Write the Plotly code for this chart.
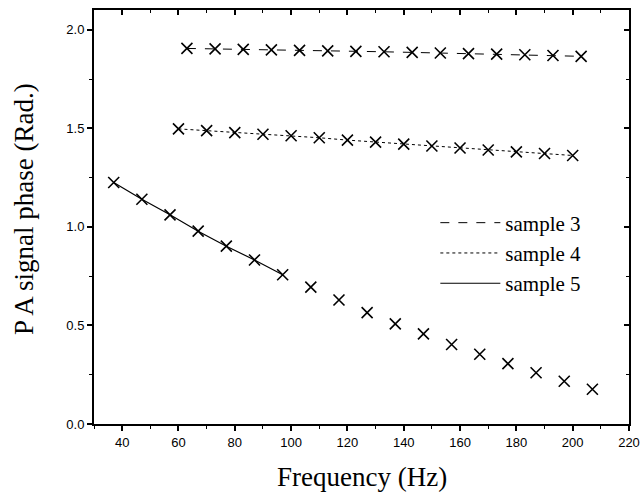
import plotly.graph_objects as go

# ---- data ----
freq3 = [63, 73, 83, 93, 103, 113, 123, 133, 143, 153, 163, 173, 183, 193, 203]
phase3 = [1.905, 1.903, 1.900, 1.898, 1.895, 1.893, 1.890, 1.888, 1.885, 1.882, 1.879, 1.876, 1.873, 1.869, 1.865]

freq4 = [60, 70, 80, 90, 100, 110, 120, 130, 140, 150, 160, 170, 180, 190, 200]
phase4 = [1.497, 1.488, 1.478, 1.470, 1.462, 1.452, 1.440, 1.430, 1.420, 1.410, 1.400, 1.390, 1.380, 1.372, 1.362]

freq5 = [37, 47, 57, 67, 77, 87, 97, 107, 117, 127, 137, 147, 157, 167, 177, 187, 197, 207]
phase5 = [1.225, 1.140, 1.061, 0.978, 0.902, 0.832, 0.757, 0.694, 0.629, 0.565, 0.508, 0.457,
          0.403, 0.354, 0.306, 0.260, 0.217, 0.176]
n_fit5 = 7  # sample 5 line drawn through the first points only

x_ticks = [40, 60, 80, 100, 120, 140, 160, 180, 200, 220]
x_minor = [30, 50, 70, 90, 110, 130, 150, 170, 190, 210]
y_ticks = [0.0, 0.5, 1.0, 1.5, 2.0]
y_minor = [0.25, 0.75, 1.25, 1.75]

x_title = "Frequency (Hz)"
y_title = "P A signal phase (Rad.)"

serif = "Liberation Serif, Times New Roman, serif"
sans = "Liberation Sans, Arial, sans-serif"

marker = dict(symbol="x-thin", size=11, color="black", line=dict(width=1.6, color="black"))

fig = go.Figure()
# legend line traces
fig.add_trace(go.Scatter(x=freq3, y=phase3, mode="lines", name="sample 3",
                         line=dict(color="black", width=1, dash="dash")))
fig.add_trace(go.Scatter(x=freq4, y=phase4, mode="lines", name="sample 4",
                         line=dict(color="black", width=1, dash="dot")))
fig.add_trace(go.Scatter(x=freq5[:n_fit5], y=phase5[:n_fit5], mode="lines", name="sample 5",
                         line=dict(color="black", width=1.2)))
# markers
for fx, fy in [(freq3, phase3), (freq4, phase4), (freq5, phase5)]:
    fig.add_trace(go.Scatter(x=fx, y=fy, mode="markers", marker=marker, showlegend=False))

# invisible trace for inside ticks on top/right
fig.add_trace(go.Scatter(x=[None], y=[None], xaxis="x2", yaxis="y2", showlegend=False,
                         hoverinfo="skip"))

tick_common = dict(showgrid=False, zeroline=False, ticklen=5, tickwidth=1.5, tickcolor="black",
                   automargin=False)

fig.update_layout(
    width=640, height=495,
    margin=dict(l=94, r=11, t=10, b=71),
    paper_bgcolor="white", plot_bgcolor="white",
    showlegend=True,
    legend=dict(x=0.638, y=0.535, xanchor="left", yanchor="top",
                font=dict(family=serif, size=21, color="black"),
                bgcolor="rgba(0,0,0,0)", tracegroupgap=0, itemwidth=60),
    xaxis=dict(range=[30, 220], tickvals=x_ticks, ticks="outside",
               showline=True, mirror=True, linecolor="black", linewidth=2,
               tickfont=dict(family=sans, size=13, color="black"),
               minor=dict(tickvals=x_minor, ticks="outside", ticklen=3,
                          tickwidth=1.2, tickcolor="black"),
               **tick_common),
    yaxis=dict(range=[0, 2.1], tickvals=y_ticks, tickformat=".1f", ticks="outside",
               showline=True, mirror=True, linecolor="black", linewidth=2,
               tickfont=dict(family=sans, size=13, color="black"),
               minor=dict(tickvals=y_minor, ticks="outside", ticklen=3,
                          tickwidth=1.2, tickcolor="black"),
               **tick_common),
    xaxis2=dict(range=[30, 220], overlaying="x", side="top", anchor="y", tickvals=x_ticks,
                ticks="inside", showticklabels=False, showline=False,
                minor=dict(tickvals=x_minor, ticks="inside", ticklen=3,
                           tickwidth=1.2, tickcolor="black"),
                **tick_common),
    yaxis2=dict(range=[0, 2.1], overlaying="y", side="right", anchor="x", tickvals=y_ticks,
                ticks="inside", showticklabels=False, showline=False,
                minor=dict(tickvals=y_minor, ticks="inside", ticklen=3,
                           tickwidth=1.2, tickcolor="black"),
                **tick_common),
    annotations=[
        dict(text=x_title, xref="paper", yref="paper", x=0.5, y=-0.128,
             xanchor="center", yanchor="middle", showarrow=False,
             font=dict(family=serif, size=27, color="black")),
        dict(text=y_title, xref="paper", yref="paper", x=-0.131, y=0.519,
             xanchor="center", yanchor="middle", showarrow=False, textangle=-90,
             font=dict(family=serif, size=27, color="black")),
    ],
)

fig.write_html("out.html", config={"displayModeBar": False},
               post_script="document.body.style.margin='0';document.body.style.overflow='hidden';")
